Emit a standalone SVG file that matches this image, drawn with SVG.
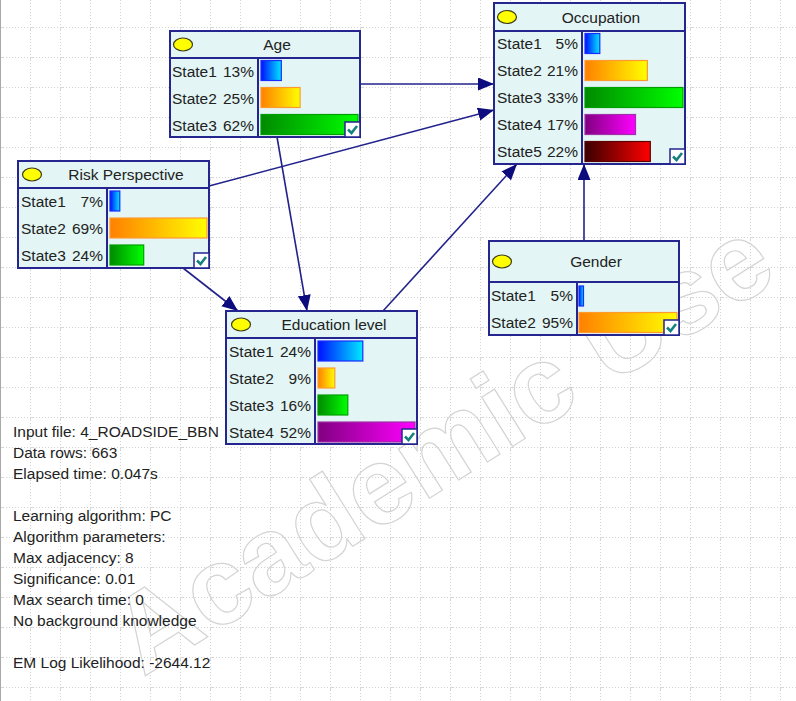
<svg xmlns="http://www.w3.org/2000/svg" width="796" height="701" viewBox="0 0 796 701">
<defs>
<pattern id="grid" width="30" height="30" patternUnits="userSpaceOnUse" x="0" y="-3">
<line x1="0.5" y1="0" x2="0.5" y2="30" stroke="#d2d2d2" stroke-width="1" stroke-dasharray="1 2"/>
<line x1="0" y1="0.5" x2="30" y2="0.5" stroke="#d2d2d2" stroke-width="1" stroke-dasharray="1 2"/>
<path d="M-2,0.5 H3 M0.5,-2 V3" stroke="#d8d8d8" stroke-width="1"/>
</pattern>
<linearGradient id="g1" x1="0" x2="1" y1="0" y2="0"><stop offset="0" stop-color="#0010ff"/><stop offset="1" stop-color="#00e8ff"/></linearGradient>
<linearGradient id="g2" x1="0" x2="1" y1="0" y2="0"><stop offset="0" stop-color="#ff8000"/><stop offset="1" stop-color="#ffff00"/></linearGradient>
<linearGradient id="g3" x1="0" x2="1" y1="0" y2="0"><stop offset="0" stop-color="#008a00"/><stop offset="1" stop-color="#00ff00"/></linearGradient>
<linearGradient id="g4" x1="0" x2="1" y1="0" y2="0"><stop offset="0" stop-color="#800080"/><stop offset="1" stop-color="#ff00ff"/></linearGradient>
<linearGradient id="g5" x1="0" x2="1" y1="0" y2="0"><stop offset="0" stop-color="#3a0000"/><stop offset="1" stop-color="#ff0000"/></linearGradient>
<marker id="arr" markerUnits="userSpaceOnUse" markerWidth="18" markerHeight="14" refX="16" refY="6.5" orient="auto">
<path d="M0,0 L16,6.5 L0,13 Z" fill="#0c0c7e"/>
</marker>
<g id="chk">
<rect x="0" y="0" width="15" height="15" fill="#ffffff" stroke="#25258f" stroke-width="1.5"/>
<path d="M3,7.5 L6.5,11 L12,4" fill="none" stroke="#178080" stroke-width="2.6"/>
</g>
</defs>
<style>
.box{fill:#e3f5f5;stroke:#25258f;stroke-width:2}
.ln{stroke:#25258f;stroke-width:2}
.t{font-family:"Liberation Sans",Arial,sans-serif;font-size:15.5px;fill:#222222}
.ttl{font-family:"Liberation Sans",Arial,sans-serif;font-size:15.5px;fill:#222222;text-anchor:middle}
.pc{text-anchor:end}
.ell{fill:#ffff00;stroke:#3a3a1a;stroke-width:1.2}
.b1{fill:url(#g1);stroke:#1a2cff;stroke-width:1.2}
.b2{fill:url(#g2);stroke:#ff9a30;stroke-width:1.2}
.b3{fill:url(#g3);stroke:#00a000;stroke-width:1.2}
.b4{fill:url(#g4);stroke:#a030a8;stroke-width:1.2}
.b5{fill:url(#g5);stroke:#5a0000;stroke-width:1.2}
.edge{stroke:#22228c;stroke-width:1.6;fill:none;marker-end:url(#arr)}
.wm{font-family:"Liberation Sans",Arial,sans-serif;font-size:110px;font-weight:bold;fill:none;stroke:#d4d4d4;stroke-width:1.2;text-anchor:middle}
</style>
<rect x="0" y="0" width="796" height="701" fill="#ffffff"/>
<rect x="0" y="0" width="796" height="701" fill="url(#grid)"/>
<line x1="0.5" y1="0" x2="0.5" y2="701" stroke="#a8a8a8" stroke-width="1"/>
<text class="wm" x="462" y="478" transform="rotate(-32 462 478)">Academic Use</text>

<g id="connectors">
<line class="edge" x1="360" y1="84" x2="494" y2="84"/>
<line class="edge" x1="209" y1="186" x2="494" y2="110"/>
<line class="edge" x1="277" y1="137" x2="307" y2="311"/>
<line class="edge" x1="183" y1="268" x2="238" y2="311"/>
<line class="edge" x1="383" y1="311" x2="517" y2="164"/>
<line class="edge" x1="584" y1="241" x2="584" y2="164"/>
</g>

<g id="age">
<rect class="box" x="170" y="31" width="190" height="106"/>
<line class="ln" x1="170" y1="58" x2="360" y2="58"/>
<line class="ln" x1="258" y1="58" x2="258" y2="137"/>
<ellipse class="ell" cx="183" cy="44.5" rx="9.5" ry="6.5"/>
<text class="ttl" x="277" y="50">Age</text>
<text class="t" x="172" y="76.5">State1</text><text class="t pc" x="254" y="76.5">13%</text>
<text class="t" x="172" y="103.5">State2</text><text class="t pc" x="254" y="103.5">25%</text>
<text class="t" x="172" y="130.5">State3</text><text class="t pc" x="254" y="130.5">62%</text>
<rect class="b1" x="261" y="60.5" width="20.3" height="20"/>
<rect class="b2" x="261" y="87.5" width="39.1" height="20"/>
<rect class="b3" x="261" y="114.5" width="97" height="20"/>
<use href="#chk" x="345" y="122"/>
</g>

<g id="occupation">
<rect class="box" x="494" y="3" width="191" height="161"/>
<line class="ln" x1="494" y1="31" x2="685" y2="31"/>
<line class="ln" x1="582" y1="31" x2="582" y2="164"/>
<ellipse class="ell" cx="507" cy="17" rx="9.5" ry="6.5"/>
<text class="ttl" x="601" y="22.5">Occupation</text>
<text class="t" x="497" y="48.5">State1</text><text class="t pc" x="578" y="48.5">5%</text>
<text class="t" x="497" y="75.5">State2</text><text class="t pc" x="578" y="75.5">21%</text>
<text class="t" x="497" y="102.5">State3</text><text class="t pc" x="578" y="102.5">33%</text>
<text class="t" x="497" y="129.5">State4</text><text class="t pc" x="578" y="129.5">17%</text>
<text class="t" x="497" y="156.5">State5</text><text class="t pc" x="578" y="156.5">22%</text>
<rect class="b1" x="585" y="33.5" width="14.8" height="20"/>
<rect class="b2" x="585" y="60.5" width="62.4" height="20"/>
<rect class="b3" x="585" y="87.5" width="98" height="20"/>
<rect class="b4" x="585" y="114.5" width="50.5" height="20"/>
<rect class="b5" x="585" y="141.5" width="65.3" height="20"/>
<use href="#chk" x="670" y="149"/>
</g>

<g id="risk">
<rect class="box" x="18" y="161" width="191" height="107"/>
<line class="ln" x1="18" y1="188" x2="209" y2="188"/>
<line class="ln" x1="107" y1="188" x2="107" y2="268"/>
<ellipse class="ell" cx="32" cy="174.5" rx="9.5" ry="6.5"/>
<text class="ttl" x="126" y="180">Risk Perspective</text>
<text class="t" x="21" y="206.5">State1</text><text class="t pc" x="103" y="206.5">7%</text>
<text class="t" x="21" y="233.5">State2</text><text class="t pc" x="103" y="233.5">69%</text>
<text class="t" x="21" y="260.5">State3</text><text class="t pc" x="103" y="260.5">24%</text>
<rect class="b1" x="110" y="191" width="9.8" height="20"/>
<rect class="b2" x="110" y="218" width="97" height="20"/>
<rect class="b3" x="110" y="245" width="33.7" height="20"/>
<use href="#chk" x="194" y="253"/>
</g>

<g id="gender">
<rect class="box" x="489" y="241" width="190" height="94"/>
<line class="ln" x1="489" y1="282" x2="679" y2="282"/>
<line class="ln" x1="577" y1="282" x2="577" y2="335"/>
<ellipse class="ell" cx="502" cy="261.5" rx="9.5" ry="6.5"/>
<text class="ttl" x="596" y="267">Gender</text>
<text class="t" x="491" y="300.5">State1</text><text class="t pc" x="573" y="300.5">5%</text>
<text class="t" x="491" y="327.5">State2</text><text class="t pc" x="573" y="327.5">95%</text>
<rect class="b1" x="579" y="286" width="4.5" height="20"/>
<rect class="b2" x="579" y="312.5" width="98" height="20"/>
<use href="#chk" x="664" y="320"/>
</g>

<g id="education">
<rect class="box" x="226" y="311" width="191" height="133"/>
<line class="ln" x1="226" y1="338" x2="417" y2="338"/>
<line class="ln" x1="315" y1="338" x2="315" y2="444"/>
<ellipse class="ell" cx="241" cy="324.5" rx="9.5" ry="6.5"/>
<text class="ttl" x="334" y="330">Education level</text>
<text class="t" x="229" y="356.5">State1</text><text class="t pc" x="311" y="356.5">24%</text>
<text class="t" x="229" y="383.5">State2</text><text class="t pc" x="311" y="383.5">9%</text>
<text class="t" x="229" y="410.5">State3</text><text class="t pc" x="311" y="410.5">16%</text>
<text class="t" x="229" y="437.5">State4</text><text class="t pc" x="311" y="437.5">52%</text>
<rect class="b1" x="318" y="341" width="44.8" height="20"/>
<rect class="b2" x="318" y="368" width="16.8" height="20"/>
<rect class="b3" x="318" y="395" width="29.8" height="20"/>
<rect class="b4" x="318" y="422" width="97" height="20"/>
<use href="#chk" x="402" y="429"/>
</g>

<g id="info" class="t">
<text x="13" y="437">Input file: 4_ROADSIDE_BBN</text>
<text x="13" y="458">Data rows: 663</text>
<text x="13" y="479">Elapsed time: 0.047s</text>
<text x="13" y="521">Learning algorithm: PC</text>
<text x="13" y="542">Algorithm parameters:</text>
<text x="13" y="563">Max adjacency: 8</text>
<text x="13" y="584">Significance: 0.01</text>
<text x="13" y="605">Max search time: 0</text>
<text x="13" y="626">No background knowledge</text>
<text x="13" y="668">EM Log Likelihood: -2644.12</text>
</g>
</svg>
